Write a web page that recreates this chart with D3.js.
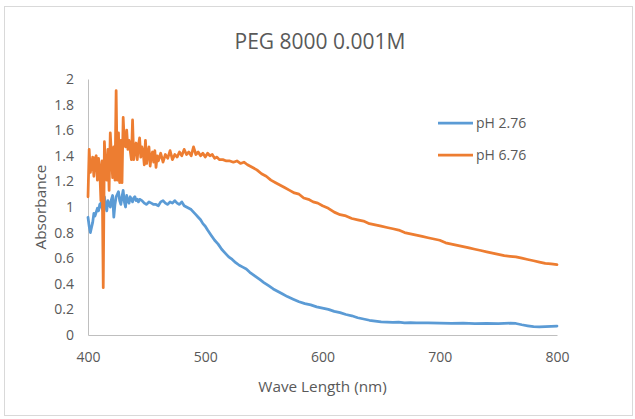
<!DOCTYPE html>
<html>
<head>
<meta charset="utf-8">
<script src="https://cdn.jsdelivr.net/npm/d3@7"></script>
<style>
  body { margin: 0; background: #fff; }
  text { font-family: "Open Sans", "Noto Sans", sans-serif; fill: #595959; }
</style>
</head>
<body>
<div id="chart"></div>
<script>
const title = "PEG 8000 0.001M";
const xTitle = "Wave Length (nm)";
const yTitle = "Absorbance";
const xTicks = [400, 500, 600, 700, 800];
const yTicks = [0, 0.2, 0.4, 0.6, 0.8, 1, 1.2, 1.4, 1.6, 1.8, 2];
const seriesNames = ["pH 2.76", "pH 6.76"];
const seriesColors = ["#5B9BD5", "#ED7D31"];

// [wavelength, absorbance]
const ph276 = [
  [400, 0.92], [401, 0.85], [402, 0.80], [403, 0.84], [404, 0.88], [405, 0.95], [406, 0.93], [407, 0.96],
  [408, 0.99], [409, 0.97], [410, 1.02], [411, 1.03], [412, 0.99], [413, 0.97], [414, 1.08], [415, 1.01],
  [416, 0.97], [417, 1.05], [418, 1.02], [419, 1.00], [420, 1.06], [421, 1.09], [422, 0.92], [423, 1.02],
  [424, 1.08], [425, 1.10], [426, 1.12], [427, 1.05], [428, 1.02], [429, 1.08], [430, 1.13], [431, 1.04],
  [432, 1.00], [433, 1.09], [434, 1.05], [435, 1.03], [436, 1.08], [437, 1.06], [438, 1.04], [439, 1.07],
  [440, 1.08], [441, 1.05], [442, 1.06], [443, 1.04], [444, 1.06], [446, 1.05], [448, 1.03], [450, 1.02],
  [452, 1.04], [454, 1.03], [456, 1.02], [458, 1.02], [460, 1.01], [462, 1.04], [464, 1.05], [466, 1.03],
  [468, 1.02], [470, 1.04], [472, 1.03], [474, 1.05], [476, 1.03], [478, 1.02], [480, 1.04], [482, 1.01],
  [484, 1.00], [486, 0.99], [488, 0.98], [490, 0.96], [492, 0.94], [494, 0.92], [496, 0.90], [498, 0.87],
  [500, 0.85], [502, 0.82], [505, 0.78], [508, 0.74], [511, 0.71], [514, 0.67], [517, 0.64], [520, 0.61],
  [523, 0.59], [526, 0.565], [529, 0.545], [532, 0.53], [535, 0.515], [538, 0.49], [541, 0.47], [544, 0.45],
  [547, 0.43], [550, 0.41], [554, 0.385], [558, 0.36], [562, 0.34], [566, 0.32], [570, 0.30], [575, 0.28],
  [580, 0.26], [585, 0.245], [590, 0.235], [595, 0.22], [600, 0.21], [605, 0.20], [610, 0.185], [615, 0.175],
  [620, 0.16], [625, 0.15], [630, 0.135], [635, 0.125], [640, 0.115], [645, 0.108], [650, 0.102], [655, 0.10],
  [660, 0.098], [665, 0.10], [670, 0.095], [675, 0.097], [680, 0.094], [690, 0.095], [700, 0.093], [710, 0.09],
  [720, 0.092], [730, 0.088], [740, 0.09], [750, 0.089], [760, 0.092], [765, 0.09], [770, 0.08], [775, 0.072],
  [780, 0.065], [785, 0.064], [790, 0.066], [795, 0.068], [800, 0.07]
];

const ph676 = [
  [400, 1.08], [401, 1.45], [402, 1.27], [403, 1.33], [404, 1.39], [405, 1.24], [406, 1.38], [407, 1.40],
  [408, 1.21], [409, 1.38], [410, 1.30], [411, 1.05], [412, 1.36], [413, 0.37], [414, 1.51], [415, 1.30],
  [416, 1.21], [417, 1.45], [418, 1.13], [419, 1.58], [420, 1.40], [421, 1.23], [422, 1.47], [423, 1.21],
  [424, 1.91], [425, 1.21], [426, 1.58], [427, 1.19], [428, 1.52], [429, 1.19], [430, 1.70], [431, 1.50],
  [432, 1.47], [433, 1.60], [434, 1.45], [435, 1.52], [436, 1.44], [437, 1.37], [438, 1.68], [439, 1.37],
  [440, 1.45], [441, 1.50], [442, 1.37], [443, 1.48], [444, 1.54], [445, 1.39], [446, 1.47], [447, 1.43],
  [448, 1.33], [449, 1.52], [450, 1.34], [451, 1.42], [452, 1.47], [453, 1.32], [454, 1.40], [455, 1.43],
  [456, 1.35], [457, 1.44], [458, 1.31], [459, 1.40], [460, 1.36], [462, 1.42], [464, 1.35], [466, 1.41],
  [468, 1.38], [470, 1.44], [472, 1.37], [474, 1.41], [476, 1.39], [478, 1.43], [480, 1.40], [482, 1.45],
  [484, 1.41], [486, 1.43], [488, 1.40], [490, 1.47], [492, 1.41], [494, 1.43], [496, 1.40], [498, 1.42],
  [500, 1.39], [502, 1.42], [504, 1.40], [506, 1.41], [508, 1.38], [510, 1.39], [512, 1.37], [515, 1.37],
  [518, 1.36], [521, 1.36], [524, 1.35], [527, 1.36], [530, 1.34], [533, 1.35], [536, 1.33], [540, 1.31],
  [544, 1.29], [548, 1.26], [552, 1.24], [556, 1.21], [560, 1.19], [564, 1.17], [568, 1.15], [572, 1.13],
  [576, 1.11], [580, 1.10], [584, 1.07], [588, 1.06], [592, 1.04], [596, 1.03], [600, 1.01], [605, 0.99],
  [610, 0.96], [615, 0.94], [620, 0.93], [625, 0.91], [630, 0.90], [635, 0.89], [640, 0.87], [645, 0.86],
  [650, 0.85], [655, 0.84], [660, 0.83], [665, 0.82], [670, 0.80], [675, 0.79], [680, 0.78], [685, 0.77],
  [690, 0.76], [695, 0.75], [700, 0.74], [705, 0.72], [710, 0.71], [715, 0.70], [720, 0.69], [725, 0.68],
  [730, 0.67], [735, 0.66], [740, 0.65], [745, 0.64], [750, 0.63], [755, 0.62], [760, 0.615], [765, 0.61],
  [770, 0.60], [775, 0.59], [780, 0.58], [785, 0.57], [790, 0.56], [795, 0.555], [800, 0.55]
];

const W = 635, H = 419;
const margin = { top: 79, right: 78, bottom: 84, left: 88 };
const width = W - margin.left - margin.right;
const height = H - margin.top - margin.bottom;

const svg = d3.select("#chart")
    .append("svg")
    .attr("width", W)
    .attr("height", H);

// chart border
svg.append("rect")
    .attr("x", 4.5).attr("y", 6.5)
    .attr("width", 628).attr("height", 409)
    .attr("fill", "#fff")
    .attr("stroke", "#d9d9d9");

const g = svg.append("g")
    .attr("transform", `translate(${margin.left},${margin.top})`);

const x = d3.scaleLinear().domain([400, 800]).range([0, width]);
const y = d3.scaleLinear().domain([0, 2]).range([height, 0]);

// axes
const xAxis = g.append("g")
    .attr("transform", `translate(0,${height})`)
    .call(d3.axisBottom(x).tickValues(xTicks).tickSize(0).tickPadding(17).tickFormat(d3.format("d")));
const yAxis = g.append("g")
    .call(d3.axisLeft(y).tickValues(yTicks).tickSize(0).tickPadding(14).tickFormat(d => String(+d.toFixed(1))));

[xAxis, yAxis].forEach(a => {
    a.select(".domain").attr("stroke", "#bfbfbf").attr("stroke-width", 1);
    a.selectAll("text").attr("font-size", 14).attr("fill", "#595959")
        .attr("font-family", "'Open Sans', sans-serif");
});

// lines
const line = d3.line().x(d => x(d[0])).y(d => y(d[1]));
[ph276, ph676].forEach((data, i) => {
    g.append("path")
        .datum(data)
        .attr("fill", "none")
        .attr("stroke", seriesColors[i])
        .attr("stroke-width", 2.75)
        .attr("stroke-linejoin", "round")
        .attr("stroke-linecap", "round")
        .attr("d", line);
});

// titles
svg.append("text")
    .attr("x", 320).attr("y", 49)
    .attr("text-anchor", "middle")
    .attr("font-size", 21)
    .text(title);

svg.append("text")
    .attr("x", margin.left + width / 2).attr("y", 392)
    .attr("text-anchor", "middle")
    .attr("font-size", 15.3)
    .text(xTitle);

svg.append("text")
    .attr("transform", `translate(46,${margin.top + height / 2}) rotate(-90)`)
    .attr("text-anchor", "middle")
    .attr("font-size", 15.3)
    .text(yTitle);

// legend
const legend = svg.append("g").attr("transform", "translate(438,123)");
seriesNames.forEach((name, i) => {
    const item = legend.append("g").attr("transform", `translate(0,${i * 32})`);
    item.append("line")
        .attr("x1", 0).attr("x2", 35)
        .attr("stroke", seriesColors[i])
        .attr("stroke-width", 2.75);
    item.append("text")
        .attr("x", 38).attr("dy", "0.35em")
        .attr("font-size", 14)
        .text(name);
});
</script>
</body>
</html>
